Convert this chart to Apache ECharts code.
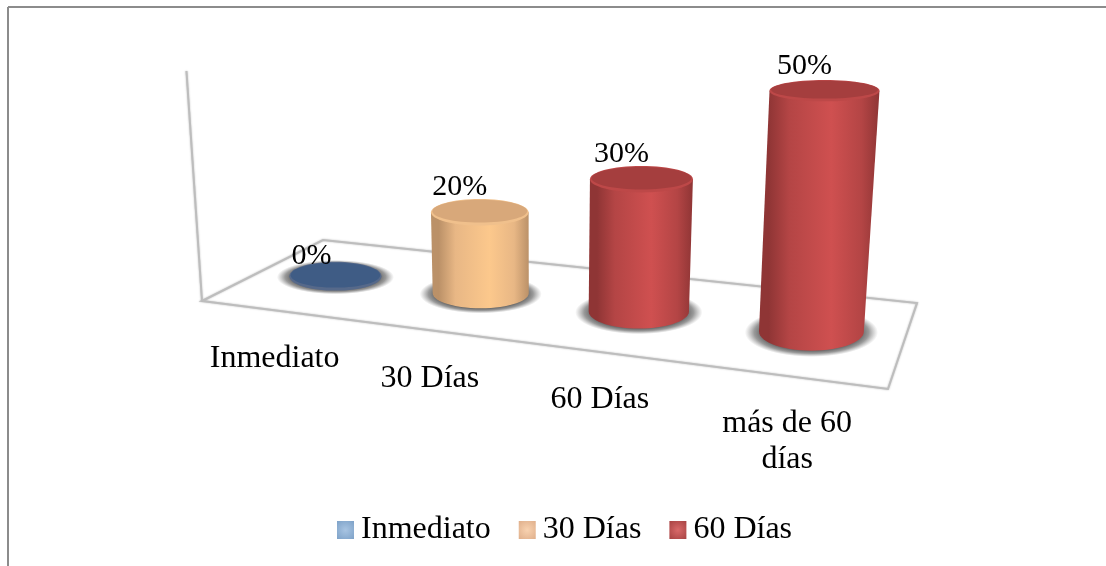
<!DOCTYPE html>
<html>
<head>
<meta charset="utf-8">
<style>
  html, body { margin: 0; padding: 0; background: #fff; }
  #chart { width: 1106px; height: 566px; }
</style>
<script src="https://cdn.jsdelivr.net/npm/echarts@6/dist/echarts.min.js"></script>
</head>
<body>
<div id="chart"></div>
<script>
const categories = ['Inmediato', '30 Días', '60 Días', 'más de 60\ndías']
const values = [0, 20, 30, 50]
const legendNames = ['Inmediato', '30 Días', '60 Días']

const font = '"Liberation Serif", "Times New Roman", serif'

// colours of the cylinders: edge, side, middle, top face, rim
const blue = { edge: '#3a5478', side: '#42608a', mid: '#4a6a96', top: '#3f5c85', rim: '#56698a' }
const orange = { edge: '#bb9168', side: '#e8b785', mid: '#fcc88c', top: '#d8a87a', rim: '#f0c08c' }
const red = { edge: '#8f3535', side: '#b44545', mid: '#cf5050', top: '#a53e3e', rim: '#bd4848' }

// floor of the 3D box, corners on the page, used for the perspective
const FL = [202, 301], FR = [888, 389], BR = [917, 303], BL = [323, 240]
const den = (FR[0] - BR[0]) * (BL[1] - BR[1]) - (BL[0] - BR[0]) * (FR[1] - BR[1])
const sx = FL[0] - FR[0] + BR[0] - BL[0]
const sy = FL[1] - FR[1] + BR[1] - BL[1]
const g = (sx * (BL[1] - BR[1]) - (BL[0] - BR[0]) * sy) / den
const h = ((FR[0] - BR[0]) * sy - sx * (FR[1] - BR[1])) / den

function depth(u, v) {
  return 1 + g * u + h * v
}
function project(u, v) {
  const w = depth(u, v)
  return [
    ((FR[0] - FL[0] + g * FR[0]) * u + (BL[0] - FL[0] + h * BL[0]) * v + FL[0]) / w,
    ((FR[1] - FL[1] + g * FR[1]) * u + (BL[1] - FL[1] + h * BL[1]) * v + FL[1]) / w
  ]
}

const gridLeft = FL[0]
const gridWidth = FR[0] - FL[0]
const leanCenter = 540
const leanDist = 5000

function hGradient(c) {
  return new echarts.graphic.LinearGradient(0, 0, 1, 0, [
    { offset: 0, color: c.edge },
    { offset: 0.08, color: c.edge },
    { offset: 0.25, color: c.side },
    { offset: 0.6, color: c.mid },
    { offset: 0.85, color: c.side },
    { offset: 1, color: c.edge }
  ])
}

function cylinder(colors) {
  return function (params, api) {
    const idx = api.value(0)
    const val = api.value(1)
    const u = (api.coord([idx, 0])[0] - gridLeft) / gridWidth
    const w = depth(u, 0.5)
    const base = project(u, 0.5)
    const band = api.size([1, 0])[0]
    const rx = band * 0.285 / w
    // height shrinks faster than the width going back
    const height = (api.coord([idx, 0])[1] - api.coord([idx, val])[1]) / (w * w)

    const ratio = 0.28 + 0.1 * u
    const ry = rx * ratio
    const lean = (base[0] - leanCenter) / leanDist
    const topX = base[0] + lean * height
    const topY = base[1] - height
    const topRx = rx * (1 + height / leanDist)
    const topRy = topRx * (ratio - 0.0008 * height)

    const children = [{
      type: 'circle',
      x: base[0],
      y: base[1] + 1,
      scaleY: ratio,
      shape: { cx: 0, cy: 0, r: rx * 1.27 },
      style: {
        fill: new echarts.graphic.RadialGradient(0.5, 0.5, 0.5, [
          { offset: 0, color: '#5a5a5a' },
          { offset: 0.74, color: '#666' },
          { offset: 0.86, color: '#9a9a9a' },
          { offset: 1, color: 'rgba(170,170,170,0)' }
        ])
      }
    }]

    if (height > 0) {
      const pts = [[topX - topRx, topY]]
      for (let a = 180; a >= 0; a -= 6) {
        const r = a * Math.PI / 180
        pts.push([base[0] + rx * Math.cos(r), base[1] + ry * Math.sin(r)])
      }
      pts.push([topX + topRx, topY])
      children.push({ type: 'polygon', shape: { points: pts }, style: { fill: hGradient(colors) } })
    }

    children.push({
      type: 'ellipse',
      shape: { cx: topX, cy: topY, rx: topRx, ry: topRy + 1 },
      style: { fill: colors.rim }
    })
    children.push({
      type: 'ellipse',
      shape: { cx: topX, cy: topY - 1, rx: topRx * 0.97, ry: topRy * 0.92 },
      style: { fill: colors.top }
    })
    children.push({
      type: 'text',
      style: {
        text: val + '%',
        x: topX - (height > 0 ? 20 : 24),
        y: topY - (height > 0 ? 25 : 20),
        align: 'center',
        verticalAlign: 'middle',
        fontFamily: font,
        fontSize: 30,
        fill: '#000'
      }
    })
    return { type: 'group', children: children }
  }
}

function renderFrame(params, api) {
  const fl = project(0, 0)
  const fr = project(1, 0)
  const br = project(1, 1)
  const bl = project(0, 1)
  const wallH = api.coord([0, 0])[1] - api.coord([0, api.value(1)])[1]
  const lean = (fl[0] - leanCenter) / leanDist
  const line = { stroke: '#bdbdbd', lineWidth: 2, fill: null, shadowBlur: 2, shadowColor: '#bbb' }
  const children = [
    { type: 'polygon', shape: { points: [fl, fr, br, bl] }, style: line },
    { type: 'polyline', shape: { points: [fl, [fl[0] + lean * wallH, fl[1] - wallH]] }, style: line }
  ]
  return { type: 'group', children: children }
}

function renderLabel(params, api) {
  const idx = api.value(0)
  const u = (api.coord([idx, 0])[0] - gridLeft) / gridWidth
  const p = project(u, 0)
  return {
    type: 'text',
    style: {
      text: categories[idx],
      x: p[0],
      y: p[1] + 30,
      align: 'center',
      verticalAlign: 'top',
      lineHeight: 36,
      fontFamily: font,
      fontSize: 32,
      fill: '#000'
    }
  }
}

function swatch(c0, c1) {
  return new echarts.graphic.RadialGradient(0.5, 0.5, 0.7, [
    { offset: 0, color: c0 },
    { offset: 1, color: c1 }
  ])
}

const customBase = { type: 'custom', clip: false, encode: { x: 0, y: 1 }, silent: true }

const option = {
  animation: false,
  backgroundColor: '#fff',
  grid: { left: gridLeft, width: gridWidth, top: 71, height: 230 },
  xAxis: { type: 'category', data: categories, show: false },
  yAxis: { type: 'value', min: 0, max: 55, show: false },
  legend: {
    left: 337,
    top: 514,
    padding: 0,
    itemWidth: 17,
    itemHeight: 18,
    itemGap: 28,
    textStyle: { fontFamily: font, fontSize: 32, color: '#000', padding: [0, 0, 0, 2] },
    data: [
      { name: legendNames[0], icon: 'rect', itemStyle: { color: swatch('#a8c4e2', '#7fa3c9') } },
      { name: legendNames[1], icon: 'rect', itemStyle: { color: swatch('#f8d2b0', '#e0b08c') } },
      { name: legendNames[2], icon: 'rect', itemStyle: { color: swatch('#d96a6a', '#a84444') } }
    ]
  },
  series: [
    { ...customBase, name: 'frame', renderItem: renderFrame, data: [[0, 55]] },
    { ...customBase, name: legendNames[0], renderItem: cylinder(blue), data: [[0, values[0]]] },
    { ...customBase, name: legendNames[1], renderItem: cylinder(orange), data: [[1, values[1]]] },
    { ...customBase, name: legendNames[2], renderItem: cylinder(red), data: [[2, values[2]], [3, values[3]]] },
    { ...customBase, name: 'labels', renderItem: renderLabel, data: categories.map((c, i) => [i, 0]) }
  ],
  graphic: [
    { type: 'line', shape: { x1: 8, y1: 7, x2: 1106, y2: 7 }, style: { stroke: '#8c8c8c', lineWidth: 2 } },
    { type: 'line', shape: { x1: 8, y1: 7, x2: 8, y2: 566 }, style: { stroke: '#8c8c8c', lineWidth: 2 } }
  ]
}

const myChart = echarts.init(document.getElementById('chart'))
myChart.setOption(option)
</script>
</body>
</html>
